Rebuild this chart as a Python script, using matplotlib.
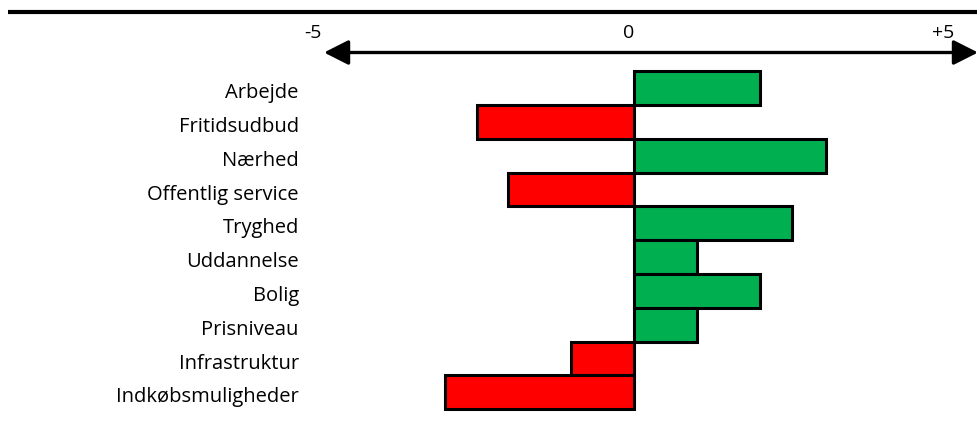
import matplotlib
matplotlib.use("Agg")
import matplotlib.pyplot as plt
from matplotlib.patches import FancyArrowPatch

# data
categories = ["Arbejde", "Fritidsudbud", "Nærhed", "Offentlig service", "Tryghed",
              "Uddannelse", "Bolig", "Prisniveau", "Infrastruktur", "Indkøbsmuligheder"]
values = [2, -2.5, 3.05, -2, 2.5, 1, 2, 1, -1, -3]
tick_vals = [-5, 0, 5]
tick_labels = ["-5", "0", "+5"]

plt.rcParams['font.family'] = ['Open Sans', 'DejaVu Sans']

fig = plt.figure(figsize=(9.78, 4.35), dpi=100)
ax = fig.add_axes([0, 0, 1, 1])
ax.set_xlim(-634 / 63, (978 - 634) / 63)
ax.set_ylim((435 - 89) / 33.8, -89 / 33.8)
ax.axis("off")

colors = ["#00B050" if v > 0 else "#FF0000" for v in values]
ax.barh(range(len(values)), values, height=1.0, color=colors,
        edgecolor="black", linewidth=2.2)

for i, c in enumerate(categories):
    ax.text(-5.32, i + 0.27, c, ha="right", va="baseline", fontsize=14.5)

for v, t in zip(tick_vals, tick_labels):
    ax.text(v - 0.09, -1.51, t, ha="center", va="baseline", fontsize=14)

arr = FancyArrowPatch((-4.92, -1.05), (5.46, -1.05),
                      arrowstyle="<|-|>,head_length=0.75,head_width=0.38",
                      mutation_scale=20, color="black", linewidth=2.4,
                      shrinkA=0, shrinkB=0)
ax.add_patch(arr)

ax.plot([-9.94, 5.46], [-2.25, -2.25], color="black", linewidth=3,
        solid_capstyle="butt")

fig.savefig("out.png", dpi=100)
